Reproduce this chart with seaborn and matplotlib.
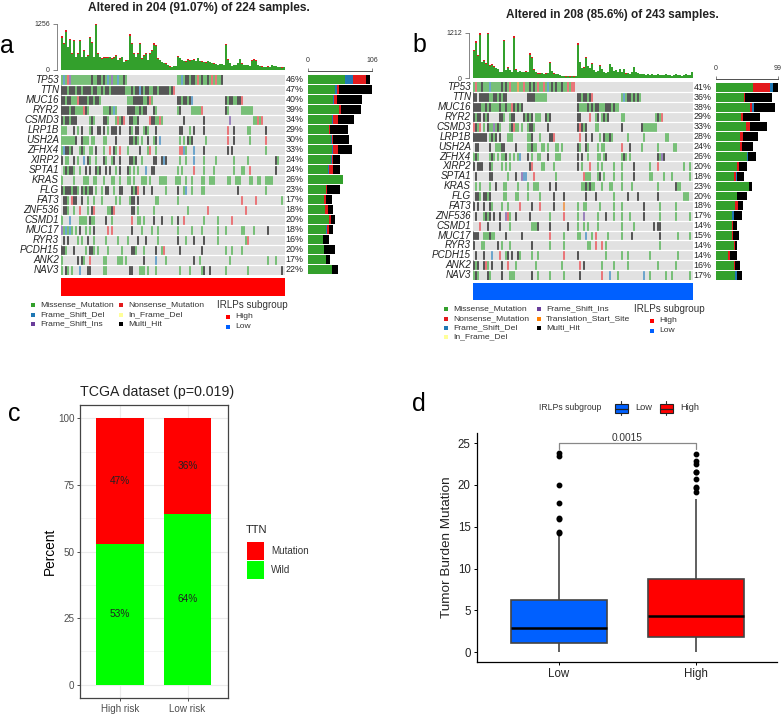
import matplotlib
matplotlib.use('Agg')
import matplotlib.pyplot as plt
from matplotlib.colors import ListedColormap
from matplotlib.patches import Rectangle
import numpy as np
import pandas as pd
import seaborn as sns

sns.set_theme(style='white')
plt.rcParams['font.family'] = ['Liberation Sans', 'DejaVu Sans']

W, H = 784, 716

# panel a ---------------------------------------------------------------
genes_a = ['TP53', 'TTN', 'MUC16', 'RYR2', 'CSMD3', 'LRP1B', 'USH2A', 'ZFHX4', 'XIRP2', 'SPTA1',
           'KRAS', 'FLG', 'FAT3', 'ZNF536', 'CSMD1', 'MUC17', 'RYR3', 'PCDH15', 'ANK2', 'NAV3']
pct_a = [46, 47, 40, 39, 34, 29, 30, 33, 24, 24, 26, 23, 17, 18, 20, 18, 16, 20, 17, 22]
miss_a = [61, 45, 41, 51, 40, 34, 38, 39, 38, 33, 58, 29, 26, 28, 35, 30, 25, 27, 29, 39]
fdel_a = [14, 3, 2, 0, 2, 0, 2, 2, 2, 2, 0, 0, 0, 0, 0, 2, 0, 0, 0, 0]
nons_a = [21, 3, 5, 4, 7, 2, 1, 8, 2, 7, 0, 2, 3, 5, 3, 2, 0, 0, 0, 0]
multi_a = [7, 55, 41, 33, 27, 30, 27, 24, 11, 11, 0, 22, 10, 9, 7, 8, 10, 17, 8, 11]
tmb_a = [930, 730, 1090, 640, 860, 455, 820, 365, 455, 820,
         365, 545, 365, 410, 910, 770, 365, 1256, 455, 365,
         320, 350, 365, 350, 365, 320, 350, 410, 270, 320,
         365, 230, 270, 270, 970, 730, 455, 365, 455, 730,
         320, 410, 455, 270, 455, 545, 730, 680, 320, 270,
         230, 200, 180, 130, 100, 90, 110, 120, 380, 330,
         280, 250, 240, 300, 260, 280, 300, 250, 330, 250,
         240, 220, 210, 250, 230, 200, 180, 160, 150, 160,
         170, 150, 710, 300, 200, 110, 140, 130, 200, 310,
         180, 150, 140, 130, 120, 270, 300, 260, 130, 110,
         100, 90, 85, 100, 80, 150, 120, 110, 90, 80,
         70, 90]
tip_a = [50, 30, 60, 20, 40, 15, 35, 15, 20, 40,
         15, 25, 15, 20, 45, 35, 15, 30, 20, 15,
         25, 15, 30, 15, 20, 30, 15, 25, 10, 15,
         20, 10, 15, 10, 40, 30, 20, 15, 20, 30,
         15, 20, 25, 10, 20, 25, 35, 30, 15, 10,
         10, 10, 5, 5, 5, 5, 5, 5, 20, 15,
         10, 15, 10, 15, 10, 15, 15, 10, 15, 10,
         10, 10, 10, 10, 10, 10, 5, 5, 5, 5,
         5, 5, 40, 15, 10, 5, 5, 5, 10, 15,
         5, 5, 5, 5, 5, 15, 20, 10, 5, 5,
         5, 5, 5, 5, 5, 5, 5, 5, 5, 5,
         5, 5]
# oncoplot rows, "first sample column:codes", one code is two samples
# m missense, h multi hit, n nonsense, d frame del, i frame ins, t start site
rows_a = [
    '0:mdmnimmmmmmmmmmhmmhhmhmdmimmdmmhm 58:mmdmhhmhhmnmhmmhmnmnmmh',
    '0:hhhmhhhmhhmhhhhmhhmmhmhhmhhhhhhhmmmhmhhdhmhhmmhhmhhhhhmhn',
    '0:hhmhhmmmnhhhhmhhmhhm 33:mmmhhhhhmmhnm 58:hhmhhmhd 82:hmhhmmhhn',
    '0:hhhhmhhmmmmnhm 21:mmmhmdm 33:hhhhmmhmhh 46:hm 58:mh 65:mmmmmn 82:hm 90:mmmmmm',
    '0:hmhhmhhh 14:mhm 21:hhm 27:mnmhn 34:hhmmh 44:nhhmmnm 61:h 71:h 84:i 96:mmnmn',
    '0:mmm 6:h 8:m 10:h 14:mh 18:hh 21:h 23:m 25:hh 27:h 29:h 34:hm 37:hh 41:mhm 47:h 59:hh 64:m 66:h 71:h 83:n 86:h 93:mm 102:h',
    '0:mmmmmmm 7:h 10:h 11:mmm 15:mm 21:mm 27:h 34:hhmhm 40:m 43:h 46:mh 49:d 59:m 61:m 63:hmh 72:m 83:n 86:h 94:m 102:n',
    '0:mdhhmh 9:mhm 14:mm 17:h 21:m 24:n 26:hm 29:n 33:m 39:h 43:mn 47:m 59:nndm 66:d 71:h 83:h 85:h 102:m',
    '0:h 2:mm 6:h 8:m 11:d 13:hm 17:m 21:hm 25:mh 29:h 34:hhm 37:h 40:m 46:hh 50:hd 52:h 59:m 62:m 66:d 71:m 77:m 86:m 93:m 107:hm',
    '1:mhmhhm 9:m 12:h 14:h 17:hm 19:h 22:h 24:h 27:m 29:h 33:hm 36:m 38:m 42:d 45:hh 58:m 60:m 66:n 71:m 76:m 86:m 90:mm 94:n 107:h',
    '0:m 6:m 11:mm 13:m 16:mm 21:m 25:mm 29:m 33:mm 36:m 40:mmm 44:m 49:mmm 52:m 57:mmm 62:m 65:m 70:mm 74:mmm 83:mm 87:mmm 94:mm 98:mm 102:mmmm',
    '0:hmhhh 5:mh 7:hm 10:hmhm 14:hh 17:m 20:m 22:hh 26:m 29:hh 35:hmhn 41:h 45:h 52:m 58:h 61:md 65:m 70:mm 88:h 102:m',
    '1:h 2:hm 5:nh 7:h 10:h 13:m 16:m 20:m 27:m 29:m 34:mhh 38:h 47:mm 58:m 90:n 97:n 110:m',
    '1:hh 3:m 6:m 9:n 13:m 15:hn 23:m 24:mhn 35:hh 38:m 46:m 63:m 73:n 92:n',
    '0:m 4:d 9:mm 11:mm 14:hm 16:m 22:h 25:m 35:n 38:mm 41:m 46:h 50:h 55:m 58:h 61:n 71:m 78:m 85:n',
    '0:imdmdm 7:m 9:h 12:m 14:m 16:h 23:n 25:n 35:h 40:m 45:m 48:m 58:m 65:m 70:m 78:m 82:m 90:mm 96:m 103:h',
    '1:h 3:h 8:m 10:m 13:h 16:m 22:m 28:m 33:m 38:h 42:h 48:m 58:h 62:m 66:h 71:h 78:m 92:mn',
    '0:hhm 6:h 12:m 14:hhm 18:m 23:m 30:m 35:hhm 41:m 47:h 50:mn 59:h 70:h 82:m 85:m 90:m',
    '0:m 8:h 10:hm 14:n 21:mm 28:mmm 32:m 41:h 47:d 52:m 66:h 69:m 84:m 103:m 107:m',
    '0:m 2:hm 5:m 9:d 13:hh 21:mm 34:hh 39:mmm 43:m 47:m 59:m 64:m 70:mh 74:h 82:m 93:m 110:h',
]

# panel b ---------------------------------------------------------------
genes_b = ['TP53', 'TTN', 'MUC16', 'RYR2', 'CSMD3', 'LRP1B', 'USH2A', 'ZFHX4', 'XIRP2', 'SPTA1',
           'KRAS', 'FLG', 'FAT3', 'ZNF536', 'CSMD1', 'MUC17', 'RYR3', 'PCDH15', 'ANK2', 'NAV3']
pct_b = [41, 36, 38, 29, 33, 28, 24, 26, 20, 18, 23, 20, 18, 17, 14, 15, 14, 14, 16, 17]
miss_b = [59, 45, 55, 40, 48, 38, 39, 49, 33, 29, 53, 34, 31, 25, 26, 25, 28, 19, 29, 31]
nons_b = [27, 2, 2, 3, 6, 5, 3, 0, 4, 3, 0, 0, 4, 0, 1, 2, 2, 3, 2, 0]
fdel_b = [5, 0, 3, 0, 0, 0, 0, 2, 0, 2, 0, 0, 0, 3, 0, 0, 0, 0, 0, 3]
multi_b = [8, 42, 34, 28, 28, 24, 17, 13, 13, 11, 5, 15, 8, 13, 6, 9, 4, 12, 7, 8]
tmb_b = [750, 1000, 620, 1195, 440, 480, 400, 1212, 350, 380,
         320, 280, 250, 180, 170, 1020, 220, 300, 220, 180,
         1120, 240, 180, 200, 170, 160, 190, 180, 660, 575,
         240, 170, 130, 130, 150, 120, 130, 150, 440, 200,
         130, 120, 110, 90, 60, 70, 50, 60, 50, 70,
         50, 60, 930, 440, 280, 300, 570, 330, 280, 400,
         220, 180, 200, 350, 260, 180, 150, 160, 390, 300,
         200, 220, 180, 260, 180, 260, 130, 150, 120, 170,
         300, 160, 140, 120, 110, 120, 100, 110, 90, 110,
         100, 90, 120, 90, 80, 100, 110, 90, 80, 70,
         90, 120, 100, 80, 70, 90, 110, 100, 90, 180]
tip_b = [30, 50, 25, 40, 15, 20, 15, 30, 15, 15,
         15, 10, 10, 5, 5, 40, 10, 15, 10, 5,
         45, 10, 5, 10, 5, 5, 10, 5, 30, 25,
         10, 5, 5, 5, 5, 5, 5, 5, 25, 10,
         5, 5, 5, 5, 5, 5, 5, 5, 5, 5,
         5, 5, 40, 20, 10, 15, 25, 15, 10, 15,
         10, 5, 10, 15, 10, 5, 5, 5, 15, 10,
         10, 10, 5, 10, 5, 10, 5, 5, 5, 5,
         10, 5, 5, 5, 5, 5, 5, 5, 5, 5,
         5, 5, 5, 5, 5, 5, 5, 5, 5, 5,
         5, 5, 5, 5, 5, 5, 5, 5, 5, 10]
rows_b = [
    '0:mnmmhmmmdmmmmmhmhmnmmmtmmnmmhmhmnmmnmdmhmhmmhmmnmnn',
    '0:hh 3:hhhh 7:hmmhhmhmhh 27:hhhh 31:mmmmmm 52:hhmhhmhn 74:mdmhhmhmhm',
    '0:hhhh 4:mmhmhmmmmhmmhmmnhmhmh 52:hmmmmhmhmhhmmmhhhmhmm',
    '0:hmhh 5:hmh 13:hhm 18:mhh 25:hmhmh 31:mmm 36:hm 38:h 52:hh 58:n 61:mh 64:mhmh 74:mm 91:mhmn',
    '0:nhmn 5:m 7:hmmimhm 18:mhnmm 24:m 27:mhh 30:m 37:h 52:hnhmh 61:mm 74:h 84:hmmmmmmm',
    '0:hhhhhhh 8:mhmh 13:h 17:mmm 27:mmh 33:m 38:hhn 53:n 56:h 59:h 63:m 65:hmmhm 77:m 85:m 96:mm',
    '1:hh 8:h 11:mmm 14:hh 21:h 27:mmhmm 34:mm 37:m 41:mm 44:m 52:hm 56:hm 62:m 64:mm 74:n 78:h 84:m 92:m 100:mm',
    '0:mhm 8:mhm 12:m 14:mmh 18:m 20:m 22:md 27:h 29:m 32:mm 37:h 41:mmm 52:h 54:h 57:m 62:mm 65:mh 74:mhm 78:m 92:hmi 95:h',
    '0:h 2:h 3:h 4:h 8:hm 14:m 16:m 18:m 28:hn 34:mm 40:m 52:h 54:m 58:n 62:m 64:m 70:m 74:m 80:h 88:m 92:n 105:m 108:m',
    '1:h 8:hh 17:m 21:h 24:id 26:d 30:n 41:m 55:n 56:mm 58:m 62:mh 65:m 70:m 74:m 80:h 88:mm 95:m 99:m 108:m',
    '1:m 3:m 8:m 11:h 15:mm 22:m 27:m 30:mmm 38:h 41:h 54:mm 56:hmhm 60:m 64:m 68:mm 74:m 79:m 92:m 101:hmm',
    '1:hhm 5:hhmh 15:mm 21:m 22:m 27:m 33:m 40:h 45:h 56:h 61:h 70:m 77:h 82:h 92:h 105:mmm',
    '0:h 2:h 5:h 8:hm 14:m 17:m 23:n 29:h 33:n 40:h 45:t 52:m 55:mm 63:m 70:m 74:m 85:h 93:m 101:m',
    '1:h 5:mhmh 10:h 13:h 16:in 18:m 21:h 28:h 38:m 45:n 52:m 55:i 62:m 66:h 70:m 74:m 78:m 85:h 93:m 101:m 108:m',
    '3:n 7:h 13:h 18:m 29:mmm 32:h 38:h 47:h 52:m 55:m 57:m 62:m 74:m 80:m 90:h 92:h 93:h',
    '0:hhh 5:mmmhm 10:m 16:h 24:h 38:n 45:m 52:mm 56:d 59:m 61:n 67:m 74:m 79:h 93:h 102:m 108:m',
    '0:h 4:mm 12:h 14:m 18:m 29:h 38:m 45:m 57:mm 61:n 64:n 66:m 93:m',
    '1:h 5:h 9:d 13:n 16:mh 19:h 22:hm 29:m 32:m 45:n 52:h 66:m 74:m 77:m 88:m 102:m',
    '0:hmh 5:hnm 9:h 14:h 17:n 21:m 31:m 44:m 53:n 55:h 64:m 70:m 77:m 92:m 101:m',
    '0:mhm 7:hm 14:h 18:mmm 29:h 32:m 38:m 45:m 53:h 64:n 68:d 72:m 85:d 88:m 96:m 99:m 108:m',
]

# panel c ---------------------------------------------------------------
risk_groups = ['High risk', 'Low risk']
ttn_mutation = [47, 36]
ttn_wild = [53, 64]

# panel d ---------------------------------------------------------------
tmb_low = [0.05, 0.2, 0.3, 0.4, 0.5, 0.6, 0.7, 0.8, 0.9, 1.0, 1.1, 1.2, 1.4, 1.5, 1.7, 1.8, 2.0, 2.2, 2.4, 2.7,
           2.95, 3.1, 3.3, 3.6, 3.9, 4.2, 4.5, 4.9, 5.3, 5.8, 6.3, 9.0, 14.0,
           14.2, 14.4, 15.9, 16.1, 17.8, 20.0, 23.5, 23.8]
tmb_high = [0.05, 0.3, 0.5, 0.7, 0.9, 1.0, 1.2, 1.3, 1.4, 1.6, 1.8, 2.0, 2.2, 2.4, 2.6, 2.8, 3.0, 3.3, 3.6, 4.0,
            4.35, 4.7, 5.0, 5.3, 5.7, 6.1, 6.5, 7.0, 7.5, 8.1, 8.75, 18.3,
            19.2, 19.6, 19.8, 20.7, 21.5, 21.6, 22.5, 22.8, 23.7]

GREEN, BLUE, RED, PURPLE, ORANGE, YELLOW = '#33a02c', '#1f78b4', '#e31a1c', '#6a3d9a', '#ff7f00', '#ffff99'
codes = {'.': 0, 'm': 1, 'h': 2, 'n': 3, 'd': 4, 'i': 5, 't': 6}
cell_cmap = ListedColormap(['#e1e1e1', '#78bf78', '#565656', '#e9767a', '#6da5cc', '#9a82bb', '#eda060'])


def px_axes(left, top, right, bottom):
    return fig.add_axes([left / W, 1 - bottom / H, (right - left) / W, (bottom - top) / H])


def parse_rows(rows, n_cols):
    mat = np.zeros((len(rows), n_cols), dtype=int)
    for i, row in enumerate(rows):
        for seg in row.split():
            start, letters = seg.split(':')
            for j, c in enumerate(letters):
                if int(start) + j < n_cols:
                    mat[i, int(start) + j] = codes[c]
    return mat


def top_bars(box, tmb, tip, top_label):
    ax = px_axes(*box)
    cols = np.arange(len(tmb))
    sns.barplot(x=cols, y=tmb, color=RED, width=1, saturation=1, linewidth=0, ax=ax)
    body = [t - p for t, p in zip(tmb, tip)]
    sns.barplot(x=cols, y=body, color=GREEN, width=1, saturation=1, linewidth=0, ax=ax)
    sns.despine(ax=ax, top=True, right=True, bottom=True)
    # set_position resets the ticks, so it has to come before them
    ax.spines['left'].set_position(('outward', 3))
    ax.spines['left'].set_linewidth(0.5)
    ax.spines['left'].set_color('#555555')
    ax.set_xlim(-0.5, len(tmb) - 0.5)
    ax.set_ylim(0, top_label)
    ax.set_xticks([])
    ax.set_yticks([0, top_label], [0, top_label], fontsize=5, color='#333333')
    ax.set_ylabel('')
    ax.tick_params(axis='y', length=3, width=0.5, pad=2, left=True, color='#555555')
    ax.patch.set_alpha(0)


def onco_matrix(box, rows, n_cols, genes, pct):
    ax = px_axes(*box)
    mat = parse_rows(rows, n_cols)
    sns.heatmap(mat, cmap=cell_cmap, vmin=-0.5, vmax=6.5, cbar=False, xticklabels=False,
                yticklabels=genes, ax=ax)
    ax.hlines(np.arange(1, len(genes)), 0, n_cols, color='white', lw=0.9)
    ax.tick_params(axis='y', length=0, pad=1.5, rotation=0)
    for lab in ax.get_yticklabels():
        lab.set_fontsize(7.1)
        lab.set_fontstyle('italic')
        lab.set_color('#222222')
    for i, p in enumerate(pct):
        ax.text(n_cols + 0.4, i + 0.5, f'{p}%', fontsize=6.4, va='center', ha='left', color='#222222')


def side_bars(box, genes, stack, xmax):
    # draw totals back to front so that each layer leaves the next one showing
    ax = px_axes(*box)
    totals = np.cumsum([vals for vals, _ in stack], axis=0)
    for level, (_, color) in reversed(list(zip(totals, stack))):
        sns.barplot(x=level, y=genes, color=color, orient='h', width=0.9,
                    saturation=1, linewidth=0, ax=ax)
    sns.despine(ax=ax, top=False, left=True, right=True, bottom=True)
    ax.spines['top'].set_position(('outward', 2.5))
    ax.spines['top'].set_linewidth(0.6)
    ax.spines['top'].set_color('#333333')
    ax.set_xlim(0, xmax)
    ax.set_ylim(len(genes) - 0.5, -0.5)
    ax.set_yticks([])
    ax.set_xlabel('')
    ax.set_ylabel('')
    ax.xaxis.tick_top()
    ax.set_xticks([0, xmax], [0, xmax], fontsize=5, color='#333333')
    ax.tick_params(axis='x', length=2, width=0.5, pad=3, top=True, color='#555555')
    ax.patch.set_alpha(0)


fig = plt.figure(figsize=(W / 100, H / 100), dpi=100)

# a
top_bars((61, 24, 285, 70), tmb_a, tip_a, 1256)
onco_matrix((61, 74.5, 285, 275), rows_a, 112, genes_a, pct_a)
side_bars((308, 74.5, 372, 275), genes_a,
          [(miss_a, GREEN), (fdel_a, BLUE), (nons_a, RED), (multi_a, 'black')], 106)

# b
top_bars((473, 32.7, 693, 78.3), tmb_b, tip_b, 1212)
onco_matrix((473, 82.4, 693, 280), rows_b, 110, genes_b, pct_b)
side_bars((716, 82.4, 778, 280), genes_b,
          [(miss_b, GREEN), (nons_b, RED), (fdel_b, BLUE), (multi_b, 'black')], 99)

# c
ax_c = px_axes(80, 405, 228, 698)
sns.barplot(x=risk_groups, y=[m + w for m, w in zip(ttn_mutation, ttn_wild)], color='#ff0000', width=0.7,
            saturation=1, linewidth=0, ax=ax_c, zorder=3)
sns.barplot(x=risk_groups, y=ttn_wild, color='#00ff00', width=0.7, saturation=1, linewidth=0, ax=ax_c, zorder=3)
ax_c.set_xlim(-0.593, 1.6)
ax_c.set_ylim(-5, 105)
ax_c.set_yticks([0, 25, 50, 75, 100])
ax_c.set_yticks([12.5, 37.5, 62.5, 87.5], minor=True)
ax_c.grid(True, which='major', color='#ebebeb', lw=0.8, zorder=0)
ax_c.grid(True, which='minor', axis='y', color='#ebebeb', lw=0.4, zorder=0)
ax_c.set_axisbelow(True)
ax_c.tick_params(axis='both', which='major', labelsize=7.1, labelcolor='#4d4d4d', length=2.5, width=0.6,
                 color='#333333', left=True, bottom=True, pad=1.5)
ax_c.tick_params(axis='y', which='minor', length=0)
ax_c.set_ylabel('Percent', fontsize=9.9, color='black', labelpad=1)
ax_c.set_xlabel('')
for s in ax_c.spines.values():
    s.set_color('#444444')
    s.set_linewidth(0.9)
for i in range(2):
    ax_c.text(i, ttn_wild[i] + ttn_mutation[i] / 2, f'{ttn_mutation[i]}%', fontsize=7.3, ha='center', va='center',
              color='#222222', zorder=4)
    ax_c.text(i, ttn_wild[i] / 2, f'{ttn_wild[i]}%', fontsize=7.3, ha='center', va='center', color='#222222', zorder=4)

# d
ax_d = px_axes(477, 433, 777, 662)
box_data = pd.DataFrame({'group': ['Low'] * len(tmb_low) + ['High'] * len(tmb_high), 'tmb': tmb_low + tmb_high})
sns.boxplot(data=box_data, x='group', y='tmb', hue='group', order=['Low', 'High'],
            palette={'Low': '#0060ff', 'High': '#ff0000'}, width=0.7, saturation=1, linewidth=1.2,
            linecolor='#444444', legend=False, ax=ax_d,
            medianprops={'color': 'black', 'linewidth': 1.8},
            flierprops={'marker': 'o', 'markerfacecolor': 'black', 'markeredgecolor': 'black', 'markersize': 3.2},
            showcaps=False)
ax_d.set_xlim(-0.6, 1.595)
ax_d.set_ylim(-1.16, 26.2)
ax_d.set_yticks([0, 5, 10, 15, 20, 25])
ax_d.tick_params(axis='both', labelsize=8.3, labelcolor='#222222', length=2.5, width=0.7, color='black',
                 left=True, bottom=True, pad=2)
ax_d.set_xlabel('')
ax_d.set_ylabel('Tumor Burden Mutation', fontsize=9.7, color='#222222', labelpad=3.5)
sns.despine(ax=ax_d)
for s in ('left', 'bottom'):
    ax_d.spines[s].set_color('black')
    ax_d.spines[s].set_linewidth(0.9)
ax_d.plot([0, 0, 1, 1], [24.3, 24.95, 24.95, 24.3], color='#888888', lw=0.9)
ax_d.text(0.5, 25.05, '0.0015', fontsize=7.3, ha='center', va='bottom', color='#333333')

# text, panel letters and hand placed legends, in pixel coordinates
ov = fig.add_axes([0, 0, 1, 1], zorder=10)
ov.set_xlim(0, W)
ov.set_ylim(H, 0)
ov.axis('off')

ov.text(199, 8, 'Altered in 204 (91.07%) of 224 samples.', fontsize=8.6, fontweight='bold', ha='center', va='center',
        color='#222222')
ov.text(612, 15, 'Altered in 208 (85.6%) of 243 samples.', fontsize=8.45, fontweight='bold', ha='center', va='center',
        color='#222222')
for letter, x, y in [('a', 0, 46), ('b', 412, 45), ('c', 8, 414), ('d', 412, 404)]:
    ov.text(x, y, letter, fontsize=18, ha='left', va='center', color='black')
ov.text(80, 392, 'TCGA dataset (p=0.019)', fontsize=10.2, ha='left', va='center', color='#222222')

ov.add_patch(Rectangle((61, 278), 224, 18, color='#ff0000', lw=0))
ov.add_patch(Rectangle((473, 283), 220, 17, color='#0060ff', lw=0))


def legend_row(x, y, color, label, size=6.1, gap=7):
    ov.plot([x], [y], marker='s', ms=3, color=color, mew=0, ls='none')
    ov.text(x + gap, y, label, fontsize=size, ha='left', va='center', color='#333333')


for x, y, c, lab in [(33, 305, GREEN, 'Missense_Mutation'), (33, 315, BLUE, 'Frame_Shift_Del'),
                     (33, 324, PURPLE, 'Frame_Shift_Ins'), (121, 305, RED, 'Nonsense_Mutation'),
                     (121, 315, YELLOW, 'In_Frame_Del'), (121, 324, 'black', 'Multi_Hit'),
                     (228, 317, '#ff0000', 'High'), (228, 327, '#0060ff', 'Low'),
                     (446, 309, GREEN, 'Missense_Mutation'), (446, 319, RED, 'Nonsense_Mutation'),
                     (446, 328, BLUE, 'Frame_Shift_Del'), (446, 337, YELLOW, 'In_Frame_Del'),
                     (539, 309, PURPLE, 'Frame_Shift_Ins'), (539, 319, ORANGE, 'Translation_Start_Site'),
                     (539, 328, 'black', 'Multi_Hit'),
                     (652, 321, '#ff0000', 'High'), (652, 331, '#0060ff', 'Low')]:
    legend_row(x, y, c, lab)
ov.text(217, 305, 'IRLPs subgroup', fontsize=7.1, ha='left', va='center', color='#333333')
ov.text(634, 309, 'IRLPs subgroup', fontsize=7.1, ha='left', va='center', color='#333333')

# legend of c
ov.text(246, 530, 'TTN', fontsize=8, ha='left', va='center', color='#222222')
ov.add_patch(Rectangle((247, 542), 17.5, 18, color='#ff0000', lw=0))
ov.add_patch(Rectangle((247, 561), 17.5, 18, color='#00ff00', lw=0))
ov.text(271, 551, 'Mutation', fontsize=7.1, ha='left', va='center', color='#333333')
ov.text(271, 570, 'Wild', fontsize=7.1, ha='left', va='center', color='#333333')

# legend of d
ov.text(539, 407.5, 'IRLPs subgroup', fontsize=6.2, ha='left', va='center', color='#333333')
for x0, col, lab in [(615, '#0060ff', 'Low'), (660, '#ff0000', 'High')]:
    ov.plot([x0 + 6.5, x0 + 6.5], [401, 414.5], color='#333333', lw=0.8)
    ov.add_patch(Rectangle((x0, 404), 13, 9, facecolor=col, edgecolor='#222222', lw=0.8, zorder=3))
    ov.plot([x0, x0 + 13], [408.5, 408.5], color='#222222', lw=0.9, zorder=4)
    ov.text(x0 + 20.5, 408, lab, fontsize=6.7, ha='left', va='center', color='#333333')

fig.savefig('out.png', dpi=100)
